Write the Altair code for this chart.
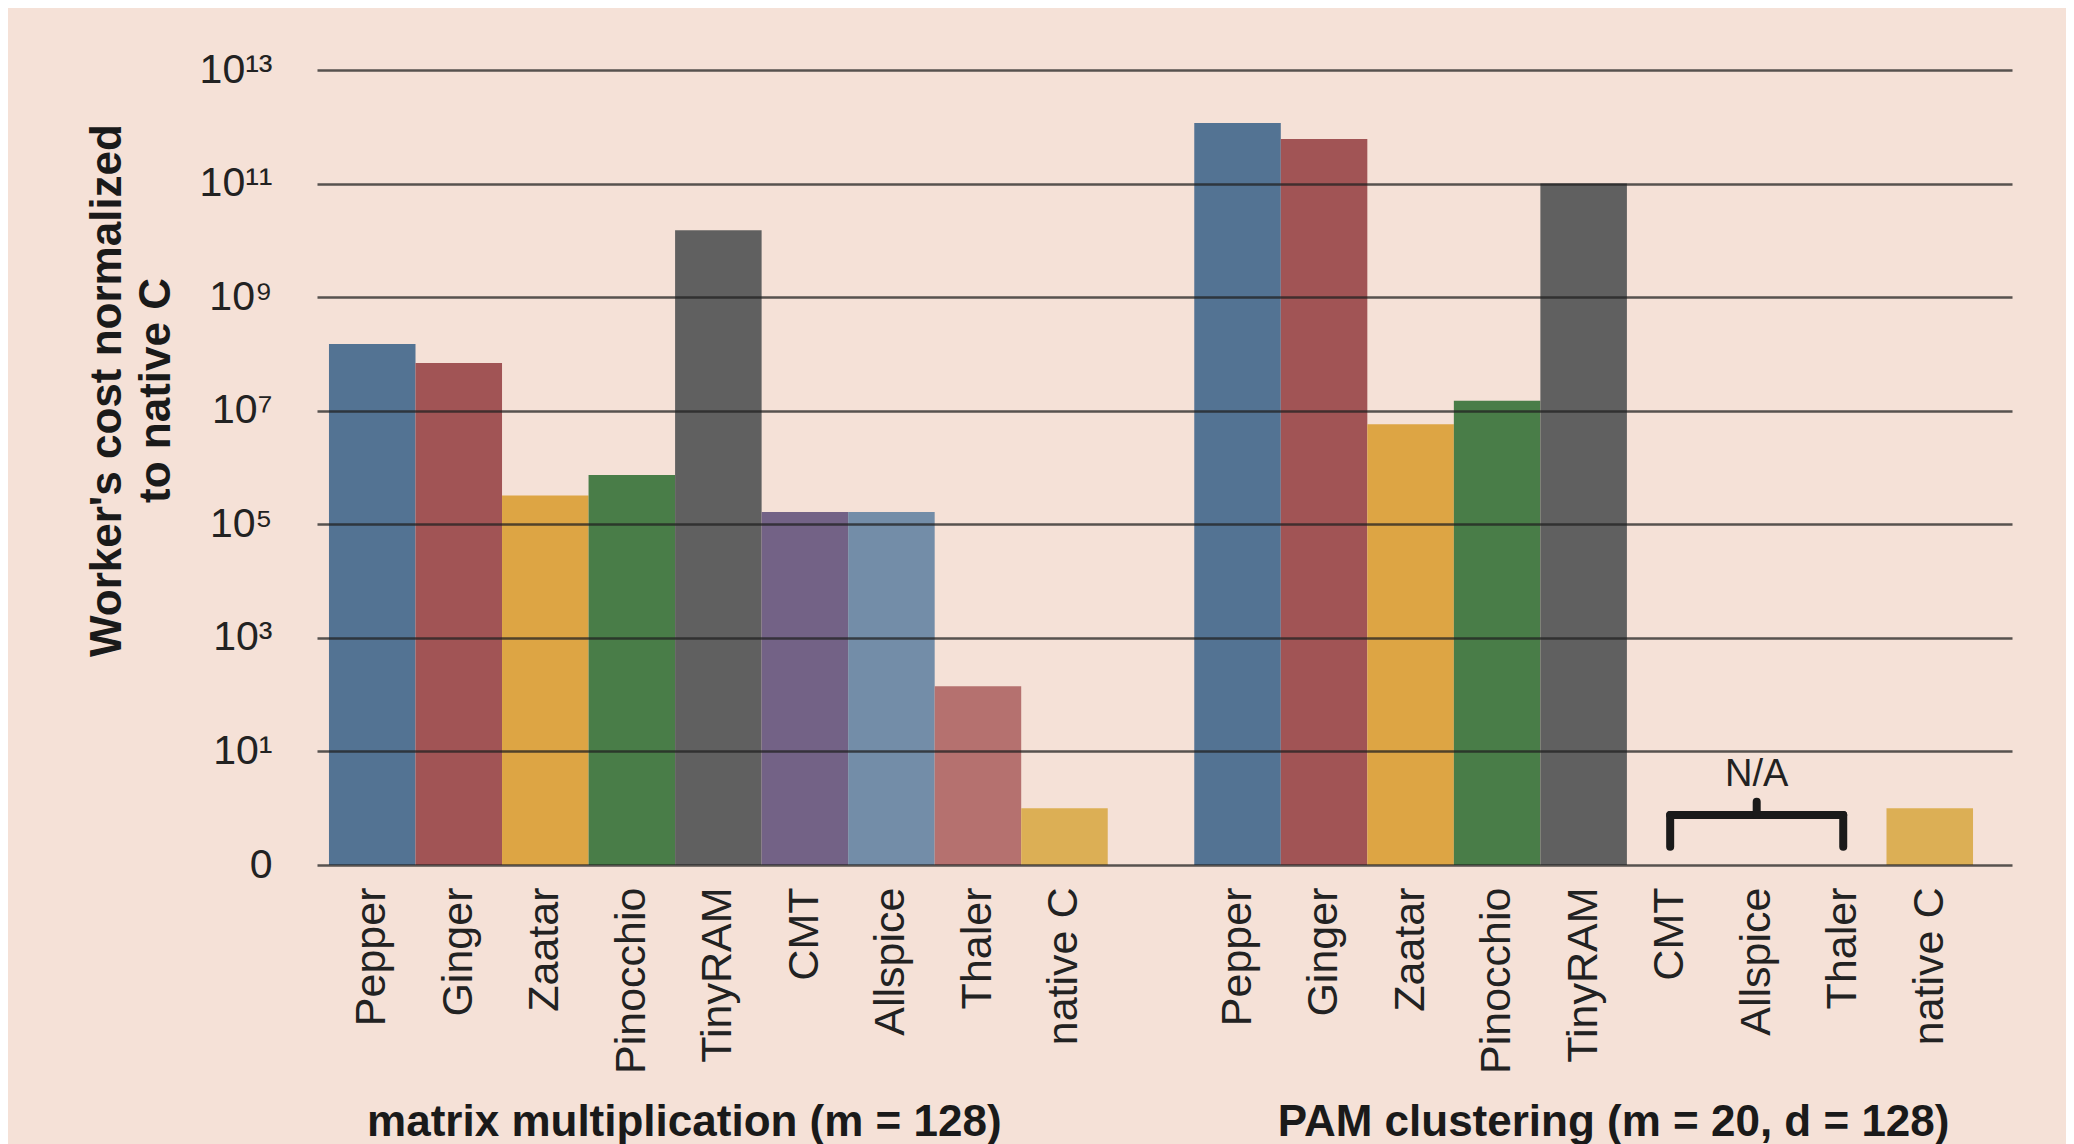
import altair as alt
import pandas as pd

# ---- data ----
systems = ["Pepper", "Ginger", "Zaatar", "Pinocchio", "TinyRAM", "CMT", "Allspice", "Thaler", "native C"]
colors = ["#537393", "#A15455", "#DDA544", "#497D48", "#606060", "#736286", "#738DA8", "#B5716F", "#DCAF55"]
matrix_values = [1.5e8, 6.9e7, 3.2e5, 7.4e5, 1.5e10, 1.65e5, 1.65e5, 141, 1]
pam_values = [1.17e12, 6.1e11, 5.8e6, 1.5e7, 1e11, None, None, None, 1]
group_titles = ["matrix multiplication (m = 128)", "PAM clustering (m = 20, d = 128)"]
y_ticks = [0.1, 10, 1e3, 1e5, 1e7, 1e9, 1e11, 1e13]
y_tick_labels = ["0", "10¹", "10³", "10⁵", "10⁷", "10⁹", "10¹¹", "10¹³"]
y_title = ["Worker's cost normalized", "to native C"]
na_text = "N/A"
na_systems = ["CMT", "Allspice", "Thaler"]
brace_low, brace_mid, brace_peak, na_level = 0.21, 0.76, 1.3, 3.8

# ---- keys: second group gets an invisible suffix so labels can repeat ----
ZW = "\u200b"
mm_keys = list(systems)
pam_keys = [s + ZW for s in systems]
gap_key = ZW + ZW
domain = mm_keys + [gap_key] + pam_keys

rows = []
for keys, vals in [(mm_keys, matrix_values), (pam_keys, pam_values)]:
    for k, s, v in zip(keys, systems, vals):
        if v is not None:
            rows.append({"key": k, "system": s, "value": v})
bars_df = pd.DataFrame(rows)

first, middle, last = [s + ZW for s in na_systems]
brace_df = pd.DataFrame([
    {"k1": first, "k2": first, "lo": brace_low, "hi": brace_mid},
    {"k1": last, "k2": last, "lo": brace_low, "hi": brace_mid},
    {"k1": first, "k2": last, "lo": brace_mid, "hi": brace_mid},
    {"k1": middle, "k2": middle, "lo": brace_mid, "hi": brace_peak},
])
na_df = pd.DataFrame([{"key": middle, "value": na_level, "text": na_text}])
title_df = pd.DataFrame([{"key": k, "text": t} for k, t in zip([mm_keys[4], pam_keys[4]], group_titles)])

# ---- scales / axes ----
x_scale = alt.Scale(domain=domain, paddingInner=0, paddingOuter=0.2944, align=0.235)
y_scale = alt.Scale(type="log", domain=[y_ticks[0], y_ticks[-1]], nice=False)

expr = f"'{y_tick_labels[-1]}'"
for v, lab in reversed(list(zip(y_ticks[:-1], y_tick_labels[:-1]))):
    expr = f"datum.value < {v * 3} ? '{lab}' : ({expr})"

x_axis = alt.Axis(
    title=None, labelAngle=270, labelAlign="right", labelBaseline="middle", labelPadding=22,
    labelFont="Liberation Sans", labelFontSize=43, labelColor="#222222", labelLimit=400,
    ticks=False, domain=False, grid=False,
)
y_axis = alt.Axis(
    values=y_ticks, labelExpr=expr, grid=True, gridColor="#222222", gridOpacity=0.75,
    gridWidth=2.5, zindex=1, ticks=False, domain=False,
    labelFont="Liberation Sans", labelFontSize=41, labelColor="#222222", labelPadding=45,
    title=y_title, titleFont="Liberation Sans", titleFontSize=44, titleFontWeight="bold",
    titleColor="#1a1a1a", titleAngle=270, titleAlign="center", titleBaseline="top",
    titleX=-232, titleY=320, titleLineHeight=49,
)

bars = alt.Chart(bars_df).mark_bar().encode(
    x=alt.X("key:N", scale=x_scale, axis=x_axis),
    y=alt.Y("value:Q", scale=y_scale, axis=y_axis, stack=None),
    color=alt.Color("system:N", scale=alt.Scale(domain=systems, range=colors), legend=None),
)

brace = alt.Chart(brace_df).mark_rule(strokeWidth=8, color="#1a1a1a", strokeCap="round").encode(
    x=alt.X("k1:N", scale=x_scale),
    x2="k2:N",
    y=alt.Y("lo:Q", scale=y_scale),
    y2="hi:Q",
)

na = alt.Chart(na_df).mark_text(font="Liberation Sans", fontSize=38, color="#222222", baseline="middle").encode(
    x=alt.X("key:N", scale=x_scale),
    y=alt.Y("value:Q", scale=y_scale),
    text="text:N",
)

title_layers = []
for i, dx in enumerate([-34, 30]):
    title_layers.append(
        alt.Chart(title_df.iloc[[i]]).mark_text(
            font="Liberation Sans", fontSize=44, fontWeight="bold", color="#1a1a1a",
            baseline="alphabetic", dx=dx,
        ).encode(
            x=alt.X("key:N", scale=x_scale),
            y=alt.value(1066),
            text="text:N",
        )
    )

chart = alt.layer(bars, brace, na, *title_layers).properties(
    width=1695, height=795,
    padding={"left": 309, "top": 62, "right": 54, "bottom": 280},
    autosize=alt.AutoSizeParams(type="none"),
    background="#F5E1D7",
).configure_view(strokeWidth=0)

chart.save("out.html", embed_options={"renderer": "svg", "actions": False})
